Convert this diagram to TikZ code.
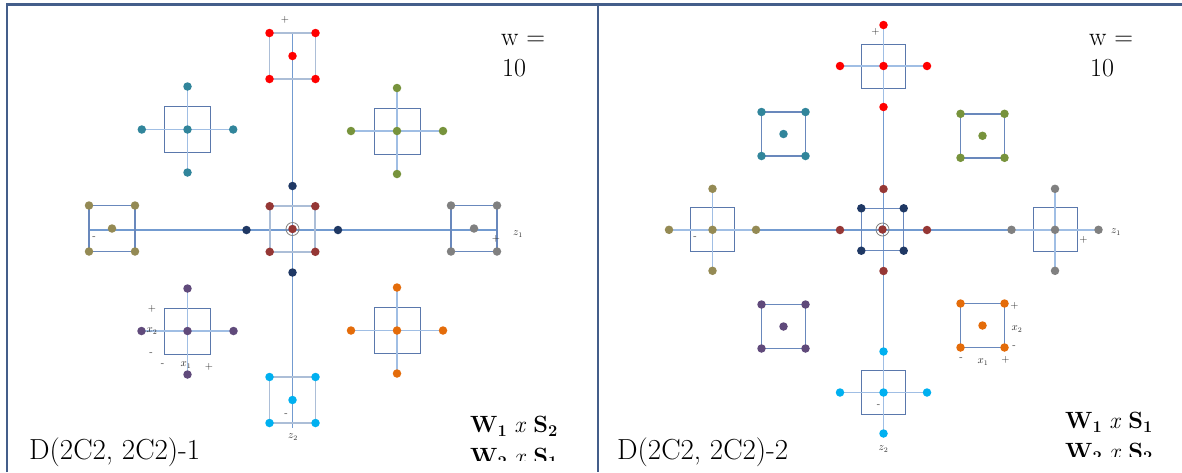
\documentclass[tikz,border=0pt]{standalone}
\usepackage{fontspec}
\pgfdeclarelayer{fg}
\pgfsetlayers{main,fg}
\definecolor{cRed}{RGB}{255,0,0}
\definecolor{cTeal}{RGB}{49,133,155}
\definecolor{cOlive}{RGB}{119,147,60}
\definecolor{cKhaki}{RGB}{148,138,84}
\definecolor{cGrey}{RGB}{128,128,128}
\definecolor{cDRed}{RGB}{149,55,53}
\definecolor{cNavy}{RGB}{31,56,100}
\definecolor{cPurple}{RGB}{96,74,123}
\definecolor{cOrange}{RGB}{228,108,10}
\definecolor{cLBlue}{RGB}{0,176,240}
\definecolor{axisblue}{RGB}{115,155,208}
\definecolor{boxblue}{RGB}{90,120,172}
\definecolor{crossblue}{RGB}{160,190,228}
\definecolor{lightsq}{RGB}{172,190,215}
\definecolor{midsq}{RGB}{105,136,188}
\definecolor{framec}{RGB}{68,94,138}
\definecolor{lblgray}{RGB}{40,40,40}
\tikzset{
  dot/.style={circle, fill=#1, inner sep=0pt, minimum size=8.5pt},
  boxln/.style={draw=boxblue, line width=1pt},
  crossln/.style={draw=crossblue, line width=1.8pt},
  axisln/.style={draw=axisblue, line width=1.1pt},
  lsq/.style={draw=lightsq, line width=1.8pt},
  dsq/.style={draw=midsq, line width=1.3pt},
  msq/.style={draw=midsq, line width=1.4pt},
  lbl/.style={font=\fontsize{10.5}{10.5}\selectfont, text=lblgray, inner sep=0pt},
  bigtxt/.style={font=\fontsize{26}{30}\selectfont, inner sep=0pt, anchor=base west},
  dtxt/.style={font=\fontsize{29}{32}\selectfont, inner sep=0pt, anchor=base west},
  wtxt/.style={font=\fontsize{23.5}{26}\selectfont, inner sep=0pt, anchor=base west},
  ringst/.style={circle, draw=cGrey, line width=0.8pt, inner sep=0pt, minimum size=13pt},
  framest/.style={draw=framec, line width=2.5pt},
}
% #1 name, #2 cx, #3 cy, #4 half box, #5 horizontal arm, #6 up arm, #7 down arm, #8 colour
\newcommand{\crosssat}[8]{%
  \draw[boxln] ({#2-#4},{#3-#4}) rectangle ({#2+#4},{#3+#4});
  \begin{pgfonlayer}{fg}
    \node[dot=#8] (#1-c) at (#2,#3) {};
    \node[dot=#8] (#1-l) at ({#2-#5},#3) {};
    \node[dot=#8] (#1-r) at ({#2+#5},#3) {};
    \node[dot=#8] (#1-t) at (#2,{#3-#6}) {};
    \node[dot=#8] (#1-b) at (#2,{#3+#7}) {};
  \end{pgfonlayer}
  \draw[crossln] (#1-l.center) -- (#1-r.center);
  \draw[crossln] (#1-t.center) -- (#1-b.center);
}
% #1 name, #2 cx, #3 cy, #4 half, #5 corner colour, #6 centre colour, #7 line style
\newcommand{\sqsat}[7]{%
  \begin{pgfonlayer}{fg}
    \node[dot=#5] (#1-nw) at ({#2-#4},{#3-#4}) {};
    \node[dot=#5] (#1-ne) at ({#2+#4},{#3-#4}) {};
    \node[dot=#5] (#1-sw) at ({#2-#4},{#3+#4}) {};
    \node[dot=#5] (#1-se) at ({#2+#4},{#3+#4}) {};
    \node[dot=#6] (#1-c) at (#2,#3) {};
  \end{pgfonlayer}
  \draw[#7] (#1-nw.center) -- (#1-ne.center) -- (#1-se.center) -- (#1-sw.center) -- cycle;
}
\begin{document}
\begin{tikzpicture}[x=1pt,y=-1pt]
\useasboundingbox (0,0) rectangle (1182,472);
\fill[white] (0,0) rectangle (1182,472);

% ---------- frame ----------
\coordinate (F-bl) at (7,472);
\coordinate (F-tl) at (7,4.5);
\coordinate (F-tr) at (1182,4.5);
\coordinate (F-mt) at (598,4.5);
\coordinate (F-mb) at (598,472);
\draw[framest] (F-bl) -- (F-tl) -- (F-tr);
\draw[framest] (F-mt) -- (F-mb);

% ---------- left panel ----------
\coordinate (L-axl) at (88,230);
\coordinate (L-axr) at (497,230);
\coordinate (L-axt) at (292.5,33);
\coordinate (L-axb) at (292.5,428);
\draw[axisln] (L-axl) -- (L-axr);
\draw[axisln] (L-axt) -- (L-axb);

\crosssat{Lteal}{187.5}{129.5}{23}{45.7}{43}{43}{cTeal}
\crosssat{Lolive}{397}{131}{23}{46}{43}{43}{cOlive}
\crosssat{Lpurple}{187.5}{331}{23}{46}{42.5}{43.5}{cPurple}
\crosssat{Lorange}{397}{330.5}{23}{46}{43}{43}{cOrange}
\sqsat{Lred}{292.5}{56}{23}{cRed}{cRed}{lsq}
\sqsat{Lkhaki}{112}{228.5}{23}{cKhaki}{cKhaki}{dsq}
\sqsat{Lgrey}{474}{228.5}{23}{cGrey}{cGrey}{dsq}
\sqsat{Lctr}{292.5}{229}{22.8}{cDRed}{cDRed}{lsq}
\sqsat{Llblue}{292.5}{400}{23}{cLBlue}{cLBlue}{lsq}
\begin{pgfonlayer}{fg}
  \node[ringst] (L-ring) at (Lctr-c) {};
  \node[dot=cNavy] (Lnav-l) at (246.5,230) {};
  \node[dot=cNavy] (Lnav-r) at (338,230) {};
  \node[dot=cNavy] (Lnav-t) at (292.5,186) {};
  \node[dot=cNavy] (Lnav-b) at (292.5,272.5) {};
\end{pgfonlayer}

\node[lbl] (L-p1) at (285,20) {+};
\node[lbl] (L-m1) at (94,238) {-};
\node[lbl] (L-p2) at (496,239) {+};
\node[lbl] (L-z1) at (518,234) {$z_1$};
\node[lbl] (L-p3) at (152,309) {+};
\node[lbl] (L-x2) at (152,331) {$x_2$};
\node[lbl] (L-m2) at (151,354) {-};
\node[lbl] (L-m3) at (162.5,365) {-};
\node[lbl] (L-x1) at (186,365) {$x_1$};
\node[lbl] (L-p4) at (209,367) {+};
\node[lbl] (L-m4) at (286,415) {-};
\node[lbl] (L-z2) at (293,437) {$z_2$};

\node[bigtxt] (L-w) at (501,45) {w =};
\node[bigtxt] (L-10) at (502,76.5) {10};
\node[dtxt] (L-D) at (29,459) {D(2C2, 2C2)-1};
\begin{scope}
  \clip (440,395) rectangle (596,460);
  \node[wtxt] (L-W1) at (470,432.5) {\textbf{W}\textsubscript{\textbf{1}} \textit{x} \textbf{S}\textsubscript{\textbf{2}}};
  \node[wtxt] (L-W2) at (470,464) {\textbf{W}\textsubscript{\textbf{2}} \textit{x} \textbf{S}\textsubscript{\textbf{1}}};
\end{scope}

% ---------- right panel ----------
\coordinate (R-axl) at (669,230);
\coordinate (R-axr) at (1099,230);
\coordinate (R-axt) at (883.5,25);
\coordinate (R-axb) at (883.5,434);
\draw[axisln] (R-axl) -- (R-axr);
\draw[axisln] (R-axt) -- (R-axb);

\crosssat{Rred}{883.5}{66}{22}{43.5}{41}{41}{cRed}
\crosssat{Rkhaki}{712.5}{229.8}{22}{43.5}{41}{41}{cKhaki}
\crosssat{Rgrey}{1055}{229.8}{22}{43.5}{41}{41}{cGrey}
\crosssat{Rlblue}{883.5}{392.5}{22}{43.5}{41}{41}{cLBlue}
\sqsat{Rteal}{783.5}{134}{22}{cTeal}{cTeal}{msq}
\sqsat{Rolive}{982.5}{135.8}{22}{cOlive}{cOlive}{msq}
\sqsat{Rpurple}{783.5}{326.5}{22}{cPurple}{cPurple}{msq}
\sqsat{Rorange}{982.5}{325.5}{22}{cOrange}{cOrange}{msq}
\sqsat{Rctr}{882.5}{229.5}{21.2}{cNavy}{cDRed}{msq}
\begin{pgfonlayer}{fg}
  \node[ringst] (R-ring) at (Rctr-c) {};
  \node[dot=cDRed] (Rdr-l) at (840,230) {};
  \node[dot=cDRed] (Rdr-r) at (927,230) {};
  \node[dot=cDRed] (Rdr-t) at (883.5,189) {};
  \node[dot=cDRed] (Rdr-b) at (883.5,271) {};
\end{pgfonlayer}

\node[lbl] (R-p1) at (875.5,32) {+};
\node[lbl] (R-m1) at (695,238) {-};
\node[lbl] (R-p2) at (1083.5,239.5) {+};
\node[lbl] (R-z1) at (1116,232) {$z_1$};
\node[lbl] (R-p3) at (1014.5,305.5) {+};
\node[lbl] (R-x2) at (1017,329) {$x_2$};
\node[lbl] (R-m2) at (1014,347) {-};
\node[lbl] (R-m3) at (961,359.5) {-};
\node[lbl] (R-x1) at (983,362) {$x_1$};
\node[lbl] (R-p4) at (1005.5,359.5) {+};
\node[lbl] (R-m4) at (878.5,406) {-};
\node[lbl] (R-z2) at (883.5,449) {$z_2$};

\node[bigtxt] (R-w) at (1089,45) {w =};
\node[bigtxt] (R-10) at (1090,76) {10};
\node[dtxt] (R-D) at (617,459) {D(2C2, 2C2)-2};
\begin{scope}
  \clip (1030,395) rectangle (1182,456.5);
  \node[wtxt] (R-W1) at (1065,428.5) {\textbf{W}\textsubscript{\textbf{1}} \textit{x} \textbf{S}\textsubscript{\textbf{1}}};
  \node[wtxt] (R-W2) at (1065,459) {\textbf{W}\textsubscript{\textbf{2}} \textit{x} \textbf{S}\textsubscript{\textbf{2}}};
\end{scope}
\end{tikzpicture}
\end{document}
